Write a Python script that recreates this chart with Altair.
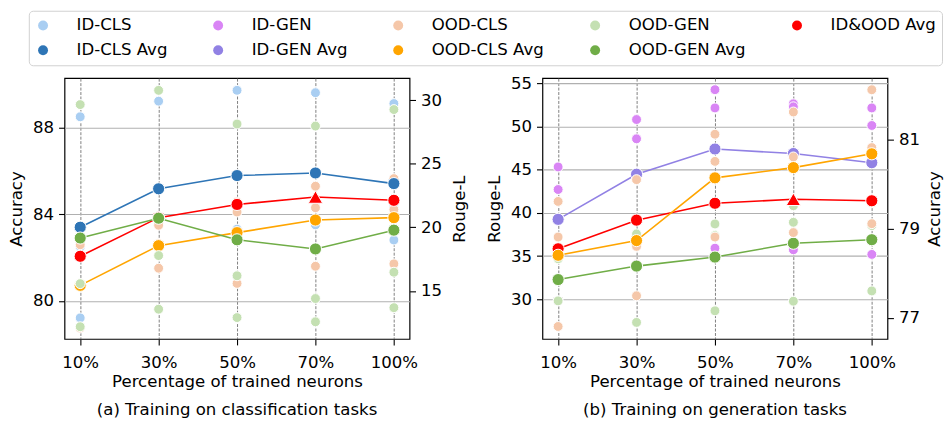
import altair as alt
import pandas as pd

pcts = ["10%", "30%", "50%", "70%", "100%"]

# legend is filled column by column (2 rows), so names are listed column-wise
series_names = ["ID-CLS", "ID-CLS Avg", "ID-GEN", "ID-GEN Avg", "OOD-CLS",
                "OOD-CLS Avg", "OOD-GEN", "OOD-GEN Avg", "ID&OOD Avg"]
series_colors = ["#a9cef2", "#2e75b6", "#d985f5", "#9181e4", "#f5c7a9",
                 "#ffa500", "#c4e0b2", "#70ad47", "#ff0000"]

red_shapes = ["circle", "circle", "circle", "triangle-up", "circle"]

# ---- (a) Training on classification tasks ----
a_id_cls = [[88.49, 82.50, 79.22], [89.21, 83.83, 82.50], [89.71, 84.33, 83.31],
            [89.60, 84.59, 83.51], [89.10, 84.33, 82.81]]
a_ood_cls = [[82.59, 80.81, 78.75], [83.49, 82.64, 81.51], [84.56, 84.10, 80.81],
             [85.29, 84.30, 81.60], [85.64, 84.22, 81.71]]
a_ood_gen = [[29.66, 15.57, 12.18], [30.78, 17.78, 13.56], [28.13, 16.19, 12.90],
             [27.97, 14.40, 12.57], [29.27, 16.47, 13.68]]
a_id_cls_avg = [83.40, 85.17, 85.78, 85.90, 85.41]
a_ood_cls_avg = [80.72, 82.55, 83.15, 83.73, 83.84]
a_ood_gen_avg = [19.16, 20.72, 19.02, 18.30, 19.78]
a_all_avg = [82.06, 83.84, 84.45, 84.79, 84.64]

# ---- (b) Training on generation tasks ----
b_id_gen = [[45.31, 42.70, 29.83], [50.79, 48.56, 34.05], [54.24, 52.13, 35.92],
            [52.61, 52.26, 35.74], [52.13, 50.10, 35.20]]
b_ood_gen = [[34.70, 32.29, 29.83], [37.57, 36.64, 27.34], [38.72, 37.38, 28.68],
             [40.83, 38.91, 29.79], [41.17, 38.53, 30.98]]
b_ood_cls = [[79.62, 78.82, 76.81], [80.11, 78.61, 77.50], [81.13, 80.52, 78.82],
             [81.63, 80.62, 78.92], [82.13, 80.83, 79.12]]
b_id_gen_avg = [39.25, 44.47, 47.38, 46.86, 45.80]
b_ood_gen_avg = [32.29, 33.85, 34.89, 36.49, 36.90]
b_ood_cls_avg = [78.41, 78.74, 80.15, 80.38, 80.69]
b_all_avg = [35.85, 39.16, 41.11, 41.57, 41.40]

a_acc_domain = [78.25, 90.27]
a_rouge_domain = [11.22, 31.74]
b_rouge_domain = [25.43, 55.57]
b_acc_domain = [76.53, 82.39]

a_acc_ticks = [80, 84, 88]
a_rouge_ticks = [15, 20, 25, 30]
b_rouge_ticks = [30, 35, 40, 45, 50, 55]
b_acc_ticks = [77, 79, 81]

FONT = "DejaVu Sans"
FS = 16.7


def points_df(name, groups):
    return pd.DataFrame([{"pct": p, "series": name, "value": v}
                         for p, g in zip(pcts, groups) for v in g])


def line_df(name, values, shapes=None):
    return pd.DataFrame({"pct": pcts, "series": name, "value": values,
                         "shape": shapes if shapes else ["circle"] * len(pcts)})


x_axis = alt.Axis(title="Percentage of trained neurons", labelAngle=0, grid=True,
                  gridDash=[3, 1.5], gridColor="#808080", gridWidth=1,
                  labelPadding=10, titlePadding=2)
x_enc = alt.X("pct:N", sort=pcts, scale=alt.Scale(type="point", padding=0.2), axis=x_axis)

color_scale = alt.Scale(domain=series_names, range=series_colors)
legend = alt.Legend(title=None, orient="none", legendX=-36, legendY=-68, columns=5,
                    symbolType="circle", symbolSize=100, symbolStrokeWidth=0,
                    labelOffset=25.5, columnPadding=42.6,
                    rowPadding=7.5, padding=6, labelFont=FONT, labelFontSize=FS,
                    labelColor="black", strokeColor="#d0d0d0", fillColor="white",
                    cornerRadius=4)


def color_enc(show=False):
    return alt.Color("series:N", scale=color_scale, legend=legend if show else None)


def y_enc(domain, ticks, title, orient, grid, tpad=7):
    ax = dict(title=title, orient=orient, values=ticks, grid=grid,
              gridColor="#b0b0b0", gridWidth=1.2, labelPadding=5, titlePadding=tpad)
    if orient == "right":
        ax.update(titleAngle=270, titleBaseline="top")
    return alt.Y("value:Q", scale=alt.Scale(domain=domain, nice=False, zero=False),
                 axis=alt.Axis(**ax))


def light(name, groups, y, show=False):
    return alt.Chart(points_df(name, groups)).mark_circle(
        size=100, opacity=1, stroke="white", strokeWidth=1
    ).encode(x=x_enc, y=y, color=color_enc(show))


def avg(name, values, y, shapes=None):
    df = line_df(name, values, shapes)
    line = alt.Chart(df).mark_line(strokeWidth=1.6).encode(x=x_enc, y=y, color=color_enc())
    pts = alt.Chart(df).mark_point(filled=True, opacity=1, stroke="white", strokeWidth=1).encode(
        x=x_enc, y=y, color=color_enc(),
        shape=alt.Shape("shape:N", scale=None, legend=None),
        size=alt.condition(alt.datum.shape == "triangle-up", alt.value(210), alt.value(150)),
    )
    return [line, pts]


def title(text):
    return alt.TitleParams(text, orient="bottom", anchor="middle", font=FONT, fontSize=FS,
                           fontWeight="normal", color="black", offset=12)


# panel a
ya_acc = y_enc(a_acc_domain, a_acc_ticks, "Accuracy", "left", True)
ya_rouge = y_enc(a_rouge_domain, a_rouge_ticks, "Rouge-L", "right", False, tpad=10)
prim_a = alt.layer(
    light("ID-CLS", a_id_cls, ya_acc, show=True),
    light("OOD-CLS", a_ood_cls, ya_acc),
    *avg("ID-CLS Avg", a_id_cls_avg, ya_acc),
    *avg("OOD-CLS Avg", a_ood_cls_avg, ya_acc),
    *avg("ID&OOD Avg", a_all_avg, ya_acc, red_shapes),
)
sec_a = alt.layer(
    light("OOD-GEN", a_ood_gen, ya_rouge),
    *avg("OOD-GEN Avg", a_ood_gen_avg, ya_rouge),
)
panel_a = alt.layer(prim_a, sec_a).resolve_scale(y="independent").properties(
    width=348, height=263, title=title("(a) Training on classification tasks"))

# panel b
yb_rouge = y_enc(b_rouge_domain, b_rouge_ticks, "Rouge-L", "left", True)
yb_acc = y_enc(b_acc_domain, b_acc_ticks, "Accuracy", "right", False, tpad=7)
prim_b = alt.layer(
    light("ID-GEN", b_id_gen, yb_rouge),
    light("OOD-GEN", b_ood_gen, yb_rouge),
    *avg("ID-GEN Avg", b_id_gen_avg, yb_rouge),
    *avg("OOD-GEN Avg", b_ood_gen_avg, yb_rouge),
    *avg("ID&OOD Avg", b_all_avg, yb_rouge, red_shapes),
)
sec_b = alt.layer(
    light("OOD-CLS", b_ood_cls, yb_acc),
    *avg("OOD-CLS Avg", b_ood_cls_avg, yb_acc),
)
panel_b = alt.layer(prim_b, sec_b).resolve_scale(y="independent").properties(
    width=348, height=263, title=title("(b) Training on generation tasks"))

chart = alt.hconcat(panel_a, panel_b, spacing=134, bounds="flush").resolve_scale(
    color="shared").resolve_legend(color="shared").properties(
    padding={"left": 0, "top": 0, "right": 0, "bottom": 0}
).configure(font=FONT).configure_view(stroke="black", strokeWidth=1.2).configure_axis(
    labelFont=FONT, titleFont=FONT, labelFontSize=FS, titleFontSize=FS,
    titleFontWeight="normal", labelColor="black", titleColor="black",
    tickColor="black", tickSize=6, tickWidth=1.1, domain=False
)

chart.save("out.html", embed_options={"renderer": "svg", "actions": False})
